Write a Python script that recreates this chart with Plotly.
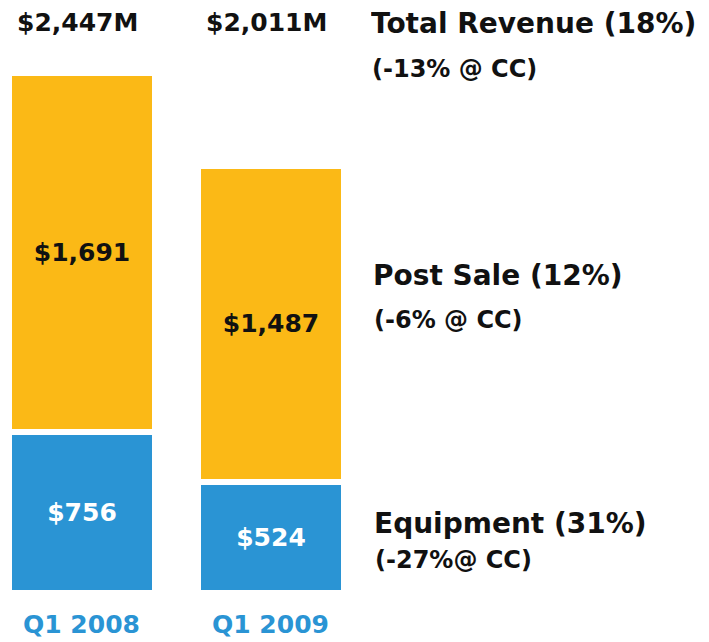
import plotly.graph_objects as go

categories = ["Q1 2008", "Q1 2009"]
equipment = [756, 524]
post_sale = [1691, 1487]
totals = [2447, 2011]
total_labels = ["$2,447M", "$2,011M"]
right_titles = ["Total Revenue (18%)", "Post Sale (12%)", "Equipment (31%)"]
right_subs = ["(-13% @ CC)", "(-6% @ CC)", "(-27%@ CC)"]

# page body has an 8px margin, so the figure is drawn 8px in from the corner
OFF = 8
W, H = 709 - OFF, 642 - OFF
FONT = "DejaVu Sans"
ORANGE = "#FBB916"
BLUE = "#2A94D4"
INK = "#111111"

xs = [0, 1]


def py(ref_y):
    return 1 - (ref_y - OFF) / H


def px(ref_x):
    return (ref_x - OFF) / W


fig = go.Figure()
fig.add_trace(go.Bar(
    x=xs, y=equipment, width=0.772,
    marker=dict(color=BLUE, line=dict(color="white", width=6)),
    texttemplate="$%{y:,}", textposition="inside", insidetextanchor="middle",
    textfont=dict(family=FONT, size=25, color="white", weight="bold"),
    textangle=0, hoverinfo="skip",
))
fig.add_trace(go.Bar(
    x=xs, y=post_sale, width=0.772,
    marker=dict(color=ORANGE, line=dict(color="white", width=6)),
    texttemplate="$%{y:,}", textposition="inside", insidetextanchor="middle",
    textfont=dict(family=FONT, size=25, color=INK, weight="bold"),
    textangle=0, hoverinfo="skip",
))

annotations = []
for i, t in enumerate(total_labels):
    annotations.append(dict(x=xs[i] - 0.025, y=py(23), xref="x", yref="paper",
                            text=t, showarrow=False, xanchor="center", yanchor="middle",
                            borderpad=0,
                            font=dict(family=FONT, size=25, color=INK, weight="bold")))
for i, c in enumerate(categories):
    annotations.append(dict(x=xs[i], y=py(624), xref="x", yref="paper",
                            text=c, showarrow=False, xanchor="center", yanchor="middle",
                            font=dict(family=FONT, size=25, color=BLUE, weight="bold")))

title_y = [23.5, 275, 523.5]
sub_y = [69, 320, 559.5]
title_x = [373, 375, 376]
for k, (t, s, ty, sy, tx) in enumerate(zip(right_titles, right_subs, title_y, sub_y, title_x)):
    ann = dict(x=px(tx - 3), y=py(ty), xref="paper", yref="paper",
               text=t, showarrow=False, xanchor="left", yanchor="middle",
               borderpad=0,
               font=dict(family=FONT, size=28, color=INK, weight="bold"))
    if k == 0:
        ann["height"] = 31
        ann["valign"] = "middle"
    annotations.append(ann)
    annotations.append(dict(x=px(tx - 3), y=py(sy), xref="paper", yref="paper",
                            text=s, showarrow=False, xanchor="left", yanchor="middle",
                            font=dict(family=FONT, size=24, color=INK, weight="bold")))

fig.update_layout(
    width=W, height=H,
    barmode="stack", showlegend=False,
    margin=dict(l=0, r=0, t=0, b=0),
    paper_bgcolor="white", plot_bgcolor="white",
    xaxis=dict(range=[-0.3915, 3.3175], visible=False, fixedrange=True),
    yaxis=dict(range=[-230.6, 2752.9], visible=False, fixedrange=True),
    annotations=annotations,
)

fig.write_html("out.html")
